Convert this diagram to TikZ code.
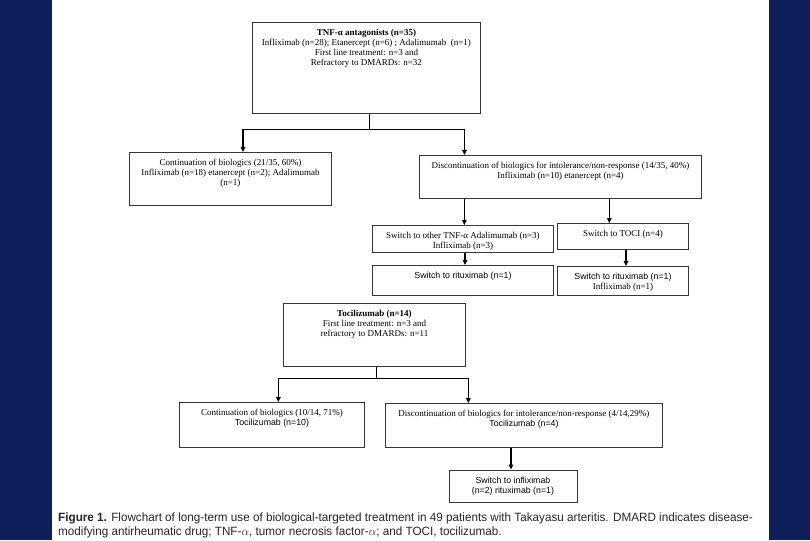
\documentclass[tikz,border=0pt]{standalone}
\usepackage{fontspec}
\setmainfont{Liberation Serif}
\newfontfamily\sansf{Liberation Sans}
\newfontfamily\capf[FakeStretch=0.975]{Liberation Sans}
\usetikzlibrary{arrows.meta}
\definecolor{navy}{RGB}{13,31,90}
\definecolor{boxline}{RGB}{55,55,55}
\tikzset{
  fbox/.style={draw=boxline, line width=0.9pt, inner sep=0pt, font=\fontsize{9}{10}\selectfont},
  conn/.style={draw=black, line width=1.4pt},
  arr/.style={conn, -{Triangle[length=5pt,width=4.6pt]}},
  capst/.style={inner sep=0pt, text=black!85, font=\capf\fontsize{12}{14}\selectfont}
}
\newcommand{\flowbox}[6]{\node[fbox,anchor=north west] (#1) at (#2,#3) {\parbox[c][#5pt][t]{#4pt}{\centering\vspace*{6.3pt}\rule{0pt}{7pt}#6\par}};}
\newcommand{\sns}[1]{{\sansf\fontsize{8.8}{10}\selectfont #1}}
\begin{document}
\begin{tikzpicture}[x=1pt,y=-1pt]
\useasboundingbox (0,0) rectangle (810,540);
\fill[white] (0,0) rectangle (810,540);
\fill[navy] (0,0) rectangle (52,540);
\fill[navy] (769,0) rectangle (810,540);

\flowbox{tnf}{252}{22}{228}{91}{\textbf{TNF-α antagonists (n=35)}\\Infliximab (n=28); Etanercept (n=6) ; Adalimumab\ \ (n=1)\\First line treatment: n=3 and\\Refractory to DMARDs: n=32}
\flowbox{cont1}{129}{152}{202}{53}{Continuation of biologics (21/35, 60\%)\\Infliximab (n=18) etanercept (n=2); Adalimumab\\(n=1)}
\flowbox{disc1}{419}{155}{282}{43}{Discontinuation of biologics for intolerance/non-response (14/35, 40\%)\\Infliximab (n=10) etanercept (n=4)}
\flowbox{swtnf}{372}{225}{181}{27}{Switch to other TNF-α Adalimumab (n=3)\\Infliximab (n=3)}
\flowbox{swtoci}{557}{223}{131}{26}{Switch to TOCI (n=4)}
\flowbox{rit1}{372}{265}{181}{30}{\sns{Switch to rituximab (n=1)}}
\flowbox{rit2}{557}{266}{131}{29}{\sns{Switch to rituximab (n=1)}\\Infliximab (n=1)}
\flowbox{toc}{283}{303}{182}{63}{\textbf{Tocilizumab (n=14)}\\First line treatment: n=3 and\\refractory to DMARDs: n=11}
\flowbox{cont2}{179}{402}{185}{45}{Continuation of biologics (10/14, 71\%)\\\sns{Tocilizumab (n=10)}}
\flowbox{disc2}{385}{403}{277}{44}{Discontinuation of biologics for intolerance/non-response (4/14,29\%)\\\sns{Tocilizumab (n=4)}}
\flowbox{swinf}{448.5}{469.5}{128}{32}{\sns{Switch to infliximab}\\\sns{(n=2) rituximab (n=1)}}

\coordinate (j1) at (369.3,129.5);
\coordinate (j1l) at (243,129.5);
\coordinate (j1r) at (464.5,129.5);
\draw[conn] (tnf.south -| j1) -- (j1);
\draw[arr] (j1) -- (j1l) -- (j1l |- cont1.north);
\draw[arr] (j1) -- (j1r) -- (j1r |- disc1.north);

\coordinate (a1) at (464.3,0);
\coordinate (a2) at (609.3,0);
\coordinate (a3) at (465,0);
\coordinate (a4) at (626,0);
\draw[arr] (disc1.south -| a1) -- (swtnf.north -| a1);
\draw[arr] (disc1.south -| a2) -- (swtoci.north -| a2);
\draw[arr] (swtnf.south -| a3) -- (rit1.north -| a3);
\draw[arr] (swtoci.south -| a4) -- (rit2.north -| a4);

\coordinate (j2) at (376.7,378.3);
\coordinate (j2l) at (278.3,378.3);
\coordinate (j2r) at (468.3,378.3);
\draw[conn] (toc.south -| j2) -- (j2);
\draw[arr] (j2) -- (j2l) -- (j2l |- cont2.north);
\draw[arr] (j2) -- (j2r) -- (j2r |- disc2.north);

\coordinate (a5) at (511,0);
\draw[arr] (disc2.south -| a5) -- (swinf.north -| a5);

\node[capst, anchor=base west] (cap1) at (58,521.5) {\textbf{Figure 1.} Flowchart of long-term use of biological-targeted treatment in 49 patients with Takayasu arteritis. DMARD indicates disease-};
\node[capst, anchor=base west] (cap2) at (58,535.5) {modifying antirheumatic drug; TNF-$\alpha$, tumor necrosis factor-$\alpha$; and TOCI, tocilizumab.};
\end{tikzpicture}
\end{document}
